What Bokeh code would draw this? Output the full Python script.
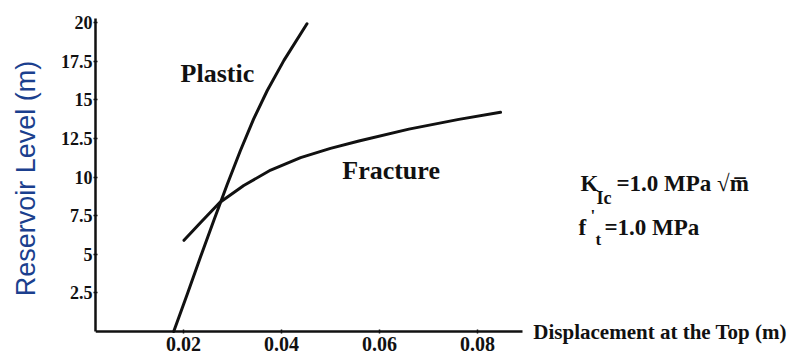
from bokeh.plotting import figure
from bokeh.models import Range1d, FixedTicker, Label
from bokeh.embed import file_html
from bokeh.resources import INLINE

# ---- data ----
plastic_x = [0.0180, 0.0208, 0.0235, 0.0262, 0.0289, 0.0316, 0.0343, 0.0371, 0.0405, 0.0452]
plastic_y = [0.0, 2.45, 4.85, 7.2, 9.5, 11.7, 13.75, 15.6, 17.55, 19.92]

fracture_x = [0.0201, 0.0235, 0.0274, 0.0323, 0.0378, 0.0439, 0.0500, 0.0558, 0.0660, 0.0762, 0.0847]
fracture_y = [5.9, 7.05, 8.35, 9.45, 10.45, 11.25, 11.85, 12.33, 13.1, 13.73, 14.19]

y_ticks = [2.5, 5, 7.5, 10, 12.5, 15, 17.5, 20]
y_tick_labels = ["2.5", "5", "7.5", "10", "12.5", "15", "17.5", "20"]
x_ticks = [0.02, 0.04, 0.06, 0.08]
x_tick_labels = ["0.02", "0.04", "0.06", "0.08"]

SERIF = "Liberation Serif"
INK = "#111111"

p = figure(width=794, height=356, output_backend="svg", toolbar_location=None,
           x_range=Range1d(0.00204, 0.1447), y_range=Range1d(-1.618, 21.424),
           min_border_left=95, min_border_right=0, min_border_top=0, min_border_bottom=0)
p.outline_line_color = None
p.grid.grid_line_color = None
p.background_fill_color = "white"
p.border_fill_color = "white"

p.line(plastic_x, plastic_y, line_color=INK, line_width=3, line_cap="round", line_join="round")
p.line(fracture_x, fracture_y, line_color=INK, line_width=3, line_cap="round", line_join="round")

# axes
xa = p.xaxis[0]
xa.fixed_location = 0
xa.ticker = FixedTicker(ticks=x_ticks)
xa.major_label_overrides = {t: l for t, l in zip(x_ticks, x_tick_labels)}
xa.bounds = (0.00204, 0.0892)
ya = p.yaxis[0]
ya.ticker = FixedTicker(ticks=y_ticks)
ya.major_label_overrides = {t: l for t, l in zip(y_ticks, y_tick_labels)}
ya.bounds = (0, 20.26)
for ax in (xa, ya):
    ax.axis_line_color = INK
    ax.axis_line_width = 2.5
    ax.major_tick_line_color = INK
    ax.major_tick_line_width = 1.5
    ax.major_tick_in = 2
    ax.major_tick_out = 2
    ax.minor_tick_line_color = None
    ax.major_label_text_font = SERIF
    ax.major_label_text_font_style = "bold"
    ax.major_label_text_color = INK
xa.major_label_text_font_size = "20px"
xa.major_label_standoff = 3
ya.major_label_text_font_size = "18px"
ya.major_label_standoff = 1

ya.axis_label = "Reservoir Level (m)"
ya.axis_label_text_font = "Liberation Sans"
ya.axis_label_text_font_style = "normal"
ya.axis_label_text_font_size = "27px"
ya.axis_label_text_color = "#1b3f8e"
ya.axis_label_standoff = 17

def lab(x, y, text, size):
    p.add_layout(Label(x=x, y=y, text=text, text_font=SERIF, text_font_style="bold",
                       text_font_size=size, text_color=INK, text_align="left",
                       text_baseline="middle"))

lab(0.0194, 16.7, "Plastic", "26px")
lab(0.0524, 10.42, "Fracture", "26px")
lab(0.0914, 0.0, "Displacement at the Top (m)", "21px")

# material parameters
lab(0.10102, 9.58, "K", "23px")
lab(0.10429, 8.61, "Ic", "18px")
lab(0.10837, 9.58, "=1.0 MPa \u221am\u0305", "23px")
lab(0.10061, 6.73, "f", "23px")
lab(0.10306, 7.51, "'", "17px")
lab(0.10408, 5.95, "t", "17px")
lab(0.10592, 6.73, "=1.0 MPa", "23px")

open("out.html", "w").write(file_html(p, INLINE))
